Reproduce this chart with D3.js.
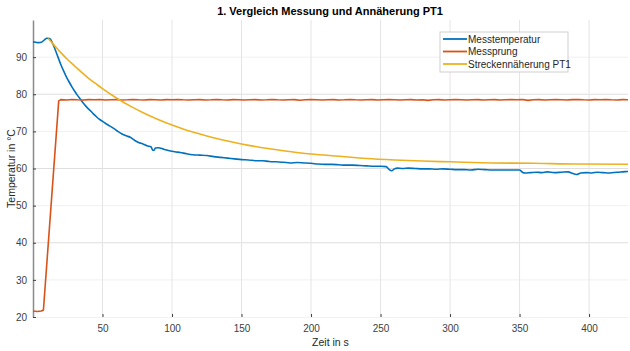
<!DOCTYPE html>
<html>
<head>
<meta charset="utf-8">
<script src="https://cdn.jsdelivr.net/npm/d3@7"></script>
<style>
  body { margin: 0; background: #fff; }
  svg { font-family: "Liberation Sans", Arial, sans-serif; }
  .tick text { fill: #404040; font-size: 10px; }
</style>
</head>
<body>
<div id="chart"></div>
<script>
// Series: [time in s, temperature in °C]
const messtemperatur = [
  [0, 94.1], [2, 94.0], [4, 93.9], [6, 94.0], [8, 94.6], [10, 95.1], [12, 95.0],
  [14, 93.8], [16, 92.0], [18, 90.0], [20, 88.0], [22, 86.3], [24, 84.7], [26, 83.3],
  [28, 82.0], [30, 80.8], [32, 79.7], [34, 78.7], [36, 77.7], [38, 76.8], [40, 76.0],
  [42, 75.3], [44, 74.5], [46, 73.8], [48, 73.2], [50, 72.7], [52, 72.2], [55, 71.5],
  [58, 70.8], [61, 70.0], [64, 69.3], [67, 68.8], [70, 68.4], [73, 67.6], [76, 67.0],
  [79, 66.6], [82, 66.1], [85, 65.8], [86, 65.0], [87, 64.9], [88, 65.5], [90, 65.6],
  [94, 65.2], [98, 64.8], [102, 64.5], [106, 64.3], [110, 64.0], [115, 63.7], [120, 63.6],
  [125, 63.5], [130, 63.2], [135, 63.0], [140, 62.8], [145, 62.6], [150, 62.4], [155, 62.3],
  [160, 62.1], [165, 62.1], [170, 61.9], [175, 61.8], [180, 61.7], [185, 61.5], [190, 61.6],
  [195, 61.5], [200, 61.4], [205, 61.2], [210, 61.1], [215, 61.1], [220, 61.0], [225, 60.9],
  [230, 60.9], [235, 60.8], [240, 60.7], [245, 60.6], [250, 60.6], [254, 60.5], [256, 59.8],
  [258, 59.4], [260, 59.9], [262, 60.1], [266, 60.0], [270, 60.1], [275, 60.0], [280, 59.9],
  [285, 59.9], [290, 59.8], [295, 59.9], [300, 59.8], [305, 59.7], [310, 59.7], [315, 59.6],
  [320, 59.8], [325, 59.7], [330, 59.6], [335, 59.6], [340, 59.6], [345, 59.6], [350, 59.6],
  [352, 59.0], [354, 58.8], [358, 58.9], [362, 59.0], [366, 58.9], [370, 59.1], [375, 58.9],
  [380, 59.0], [385, 59.1], [388, 58.7], [391, 58.4], [394, 58.8], [398, 58.9], [402, 58.8],
  [406, 59.0], [410, 58.9], [415, 58.8], [420, 59.0], [424, 59.1], [428, 59.2]
];

const messprung = [
  [0, 21.6], [3, 21.5], [6, 21.6], [7.5, 21.9], [18.5, 78.2], [20, 78.55], [24, 78.45],
  [28, 78.6], [32, 78.5], [36, 78.45], [40, 78.55], [44, 78.5], [48, 78.6], [52, 78.45],
  [56, 78.5], [60, 78.55], [64, 78.45], [68, 78.5], [72, 78.6], [76, 78.5], [80, 78.45],
  [84, 78.55], [88, 78.5], [92, 78.45], [96, 78.55], [100, 78.5], [104, 78.6], [108, 78.5],
  [112, 78.45], [116, 78.5], [120, 78.55], [124, 78.45], [128, 78.5], [132, 78.6], [136, 78.5],
  [140, 78.45], [144, 78.55], [148, 78.5], [152, 78.45], [156, 78.5], [160, 78.55], [164, 78.45],
  [168, 78.5], [172, 78.6], [176, 78.5], [180, 78.45], [184, 78.5], [188, 78.55], [192, 78.4],
  [196, 78.5], [200, 78.55], [204, 78.5], [208, 78.45], [212, 78.5], [216, 78.55], [220, 78.45],
  [224, 78.5], [228, 78.6], [232, 78.5], [236, 78.45], [240, 78.5], [244, 78.55], [248, 78.45],
  [252, 78.5], [256, 78.55], [260, 78.5], [264, 78.45], [268, 78.5], [272, 78.55], [276, 78.45],
  [280, 78.5], [284, 78.35], [288, 78.5], [292, 78.55], [296, 78.45], [300, 78.5], [304, 78.55],
  [308, 78.5], [312, 78.45], [316, 78.5], [320, 78.55], [324, 78.45], [328, 78.5], [332, 78.55],
  [336, 78.45], [340, 78.5], [344, 78.55], [348, 78.5], [352, 78.6], [356, 78.35], [360, 78.5],
  [364, 78.55], [368, 78.45], [372, 78.5], [376, 78.55], [380, 78.5], [384, 78.45], [388, 78.55],
  [392, 78.6], [396, 78.5], [400, 78.45], [404, 78.55], [408, 78.5], [412, 78.6], [416, 78.5],
  [420, 78.45], [424, 78.55], [428, 78.5]
];

const streckenPT1 = [
  [11, 95.0], [15, 93.3], [20, 91.2], [25, 89.3], [30, 87.6], [35, 85.9], [40, 84.3],
  [45, 82.9], [50, 81.5], [60, 79.0], [70, 76.8], [80, 74.9], [90, 73.2], [100, 71.7],
  [110, 70.4], [120, 69.3], [135, 67.8], [150, 66.6], [165, 65.6], [180, 64.8], [200, 63.9],
  [220, 63.3], [240, 62.7], [260, 62.3], [280, 62.0], [300, 61.8], [330, 61.5], [360, 61.4],
  [390, 61.2], [428, 61.15]
];

const seriesNames = ["Messtemperatur", "Messprung", "Streckennäherung PT1"];
const seriesColors = ["#0072BD", "#D95319", "#EDB120"];
const xTicks = [50, 100, 150, 200, 250, 300, 350, 400];
const yTicks = [20, 30, 40, 50, 60, 70, 80, 90];

const W = 630, H = 351;
const margin = { top: 20, right: 2, bottom: 34, left: 33 };
const width = W - margin.left - margin.right;
const height = H - margin.top - margin.bottom;

const svg = d3.select("#chart").append("svg")
  .attr("width", W)
  .attr("height", H);

const g = svg.append("g")
  .attr("transform", `translate(${margin.left},${margin.top})`);

const x = d3.scaleLinear().domain([0, 428]).range([0, width]);
const y = d3.scaleLinear().domain([20, 100]).range([height, 0]);

// grid
g.append("g").selectAll("line").data(yTicks.filter(d => d > 20))
  .join("line")
  .attr("x1", 0).attr("x2", width)
  .attr("y1", d => y(d)).attr("y2", d => y(d))
  .attr("stroke", d => d % 20 === 0 ? "#dedede" : "#f0f0f0")
  .attr("stroke-width", 1);

g.append("g").selectAll("line").data(xTicks)
  .join("line")
  .attr("x1", d => x(d)).attr("x2", d => x(d))
  .attr("y1", 0).attr("y2", height)
  .attr("stroke", "#e4e4e4")
  .attr("stroke-width", 1);

// axes
const xAxis = g.append("g")
  .attr("transform", `translate(0,${height})`)
  .call(d3.axisBottom(x).tickValues(xTicks).tickSizeInner(-3).tickSizeOuter(0).tickPadding(8));
xAxis.select(".domain").attr("stroke", "#f2f2f2");
xAxis.selectAll(".tick line").attr("stroke", "#404040");

const yAxis = g.append("g")
  .call(d3.axisLeft(y).tickValues(yTicks).tickSizeInner(-3).tickSizeOuter(0).tickPadding(6));
yAxis.select(".domain").attr("stroke", "#8a8a8a").attr("stroke-width", 1.5);
yAxis.selectAll(".tick line").attr("stroke", "#404040");

// lines
const smooth = d3.line()
  .x(d => x(d[0]))
  .y(d => y(d[1]))
  .curve(d3.curveMonotoneX);

const straight = d3.line()
  .x(d => x(d[0]))
  .y(d => y(d[1]));

const allSeries = [messtemperatur, messprung, streckenPT1];
allSeries.forEach((s, i) => {
  g.append("path")
    .datum(s)
    .attr("fill", "none")
    .attr("stroke", seriesColors[i])
    .attr("stroke-width", 1.6)
    .attr("stroke-linejoin", "round")
    .attr("d", i === 1 ? straight : smooth);
});

// title
svg.append("text")
  .attr("x", 330)
  .attr("y", 15)
  .attr("text-anchor", "middle")
  .attr("font-size", 11)
  .attr("font-weight", "bold")
  .attr("fill", "#000")
  .text("1. Vergleich Messung und Annäherung PT1");

// axis labels
svg.append("text")
  .attr("x", margin.left + width / 2)
  .attr("y", 346)
  .attr("text-anchor", "middle")
  .attr("font-size", 10.5)
  .attr("fill", "#262626")
  .text("Zeit in s");

svg.append("text")
  .attr("transform", `translate(15,${margin.top + height / 2}) rotate(-90)`)
  .attr("text-anchor", "middle")
  .attr("font-size", 10.5)
  .attr("fill", "#262626")
  .text("Temperatur in °C");

// legend
const legend = svg.append("g").attr("transform", "translate(440,32)");
legend.append("rect")
  .attr("width", 128).attr("height", 40)
  .attr("fill", "#fff")
  .attr("stroke", "#cfcfcf")
  .attr("stroke-width", 1);

seriesNames.forEach((name, i) => {
  const row = legend.append("g").attr("transform", `translate(0,${7 + i * 12.5})`);
  row.append("line")
    .attr("x1", 3).attr("x2", 27)
    .attr("stroke", seriesColors[i])
    .attr("stroke-width", 1.8);
  row.append("text")
    .attr("x", 28)
    .attr("y", 3.5)
    .attr("font-size", 10)
    .attr("fill", "#262626")
    .text(name);
});
</script>
</body>
</html>
